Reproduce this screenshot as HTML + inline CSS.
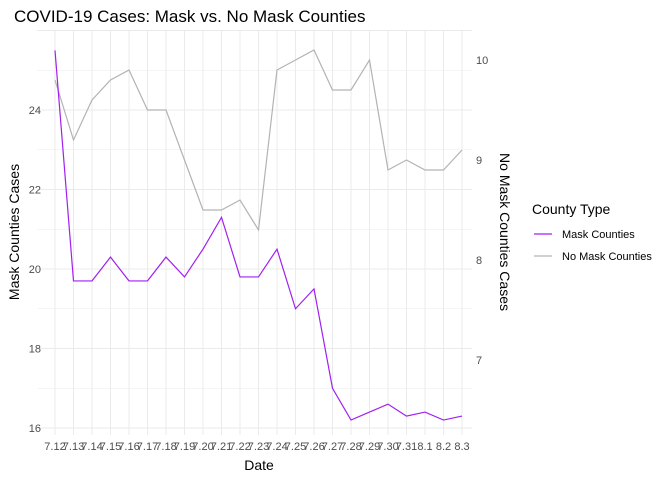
<!DOCTYPE html>
<html><head><meta charset="utf-8"><style>
body{margin:0;background:#fff;font-family:"Liberation Sans",sans-serif}
</style></head><body>
<svg id="chart" width="672" height="480" xmlns="http://www.w3.org/2000/svg" font-family="Liberation Sans, sans-serif">
<text x="14" y="22" font-size="17" fill="#000">COVID-19 Cases: Mask vs. No Mask Counties</text>
<g id="grid"></g><g id="marks"></g><g id="axes"></g>
<text x="259" y="470" font-size="14" text-anchor="middle">Date</text>
<text transform="translate(19,232) rotate(-90)" font-size="14" text-anchor="middle">Mask Counties Cases</text>
<text transform="translate(500,232) rotate(90)" font-size="14" text-anchor="middle">No Mask Counties Cases</text>
<g>
<text x="532" y="214" font-size="14">County Type</text>
<line x1="534" x2="552" y1="234" y2="234" stroke="#a020f0" stroke-width="1.2"/>
<text x="562" y="238" font-size="11">Mask Counties</text>
<line x1="534" x2="552" y1="256" y2="256" stroke="#b3b3b3" stroke-width="1.2"/>
<text x="562" y="260" font-size="11">No Mask Counties</text>
</g>
</svg>
<script>
const dates=["7.12","7.13","7.14","7.15","7.16","7.17","7.18","7.19","7.20","7.21","7.22","7.23","7.24","7.25","7.26","7.27","7.28","7.29","7.30","7.31","8.1","8.2","8.3"];
const maskCases=[25.5,19.7,19.7,20.3,19.7,19.7,20.3,19.8,20.5,21.3,19.8,19.8,20.5,19.0,19.5,17.0,16.2,16.4,16.6,16.3,16.4,16.2,16.3];
const noMaskCases=[9.8,9.2,9.6,9.8,9.9,9.5,9.5,9.0,8.5,8.5,8.6,8.3,9.9,10.0,10.1,9.7,9.7,10.0,8.9,9.0,8.9,8.9,9.1];
const leftTicks=[16,18,20,22,24];
const rightTicks=[7,8,9,10];
const NS="http://www.w3.org/2000/svg";
const X0=55,X1=462,T=30,B=435;
const x=i=>X0+i*(X1-X0)/(dates.length-1);
const yL=v=>428-(v-16)*39.75;
const yR=v=>60+(10-v)*100;
function mk(tag,attrs,parent){const e=document.createElementNS(NS,tag);for(const k in attrs)e.setAttribute(k,attrs[k]);parent.appendChild(e);return e;}
const grid=document.getElementById('grid'),marks=document.getElementById('marks'),axes=document.getElementById('axes');
for(let v=15;v<=26;v++){const yy=yL(v);if(yy<T||yy>B)continue;
 const l=mk('line',{x1:X0-18,x2:X1+10,y1:yy,y2:yy,stroke:'#ebebeb','stroke-width':v%2===0?1:0.6},grid);
 
 }
dates.forEach((d,i)=>{
 const l=mk('line',{x1:x(i),x2:x(i),y1:T,y2:B,stroke:'#ebebeb','stroke-width':1},grid);
 
 
 const t=mk('text',{x:x(i),y:450,'font-size':11,fill:'#4d4d4d','text-anchor':'middle'},axes);t.textContent=d;
 
 
});
leftTicks.forEach(v=>{const t=mk('text',{x:41,y:yL(v)+4,'font-size':11,fill:'#4d4d4d','text-anchor':'end'},axes);t.textContent=v;
 
 });
rightTicks.forEach(v=>{const t=mk('text',{x:476,y:yR(v)+4,'font-size':11,fill:'#4d4d4d'},axes);t.textContent=v;
 
 });
const p1=mk('polyline',{points:noMaskCases.map((v,i)=>x(i)+','+yR(v)).join(' '),fill:'none',stroke:'#b3b3b3','stroke-width':1.2},marks);


const p2=mk('polyline',{points:maskCases.map((v,i)=>x(i)+','+yL(v)).join(' '),fill:'none',stroke:'#a020f0','stroke-width':1.2},marks);


</script>
</body></html>
